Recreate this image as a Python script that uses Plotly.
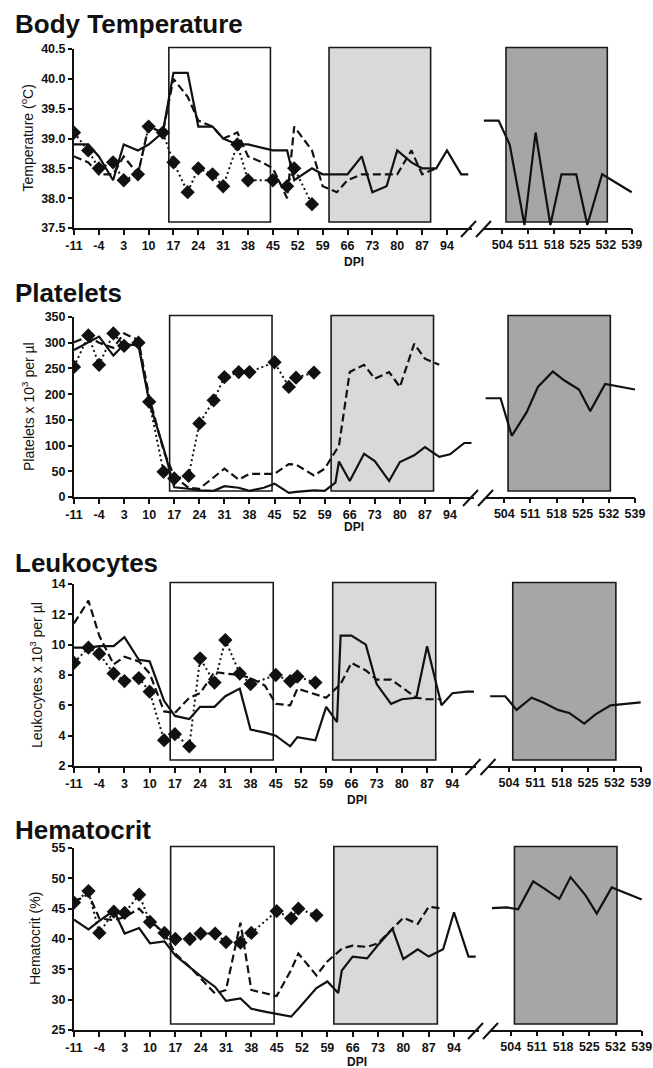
import plotly.graph_objects as go

W, H = 653, 1068

# ---------------- data ----------------
days_solid = [-11, -7, -4, 0, 3, 7, 10, 14, 17, 21, 24, 28, 31, 35, 38, 42, 45, 49, 51, 56,
              59, 62, 63, 66, 70, 73, 77, 80, 84, 87, 91, 94, 98, 100]
days_dashed = [-11, -7, -4, 0, 3, 7, 10, 14, 17, 21, 24, 28, 31, 35, 38, 42, 45, 49, 51, 56,
               59, 63, 66, 70, 73, 77, 80, 84, 87, 91]
days_dotted = [-11, -7, -4, 0, 3, 7, 10, 14, 17, 21, 24, 28, 31, 35, 38, 45, 49, 51, 56]
days_late = [499, 503, 506, 510, 513, 517, 520, 524, 527, 531, 539]

left_ticks = [-11, -4, 3, 10, 17, 24, 31, 38, 45, 52, 59, 66, 73, 80, 87, 94]
right_ticks = [504, 511, 518, 525, 532, 539]

white_phase = [15.7, 44.3]
light_phase = [60.8, 89.4]
dark_phase = [505.0, 532.4]

panel_titles = ["Body Temperature", "Platelets", "Leukocytes", "Hematocrit"]
y_titles = ["Temperature (<sup>o</sup>C)", "Platelets x 10<sup>3</sup> per \u00b5l",
            "Leukocytes x 10<sup>3</sup> per \u00b5l", "Hematocrit (%)"]
x_title = "DPI"

temp_ticks = [37.5, 38.0, 38.5, 39.0, 39.5, 40.0, 40.5]
plt_ticks = [0, 50, 100, 150, 200, 250, 300, 350]
leu_ticks = [2, 4, 6, 8, 10, 12, 14]
hct_ticks = [25, 30, 35, 40, 45, 50, 55]

temp_solid = [38.9, 38.9, 38.7, 38.3, 38.9, 38.8, 38.9, 39.1, 40.1, 40.1,
              39.2, 39.2, 39.0, 38.9, 38.9, 38.85, 38.8, 38.8, 38.3, 38.5,
              38.4, 38.4, 38.4, 38.4, 38.7, 38.1, 38.2, 38.8, 38.6, 38.5,
              38.5, 38.8, 38.4, 38.4]
temp_dashed = [38.7, 38.6, 38.4, 38.4, 38.7, 38.4, 39.2, 39.1, 40.0, 39.7,
               39.3, 39.2, 39.0, 39.1, 38.7, 38.6, 38.5, 38.0, 39.2, 38.8,
               38.2, 38.1, 38.3, 38.4, 38.4, 38.4, 38.4, 38.8, 38.4, 38.5]
temp_dotted = [39.1, 38.8, 38.5, 38.6, 38.3, 38.4, 39.2, 39.1, 38.6, 38.1,
               38.5, 38.4, 38.2, 38.9, 38.3, 38.3, 38.2, 38.5, 37.9]
temp_late = [39.3, 39.3, 38.9, 37.55, 39.1, 37.55, 38.4, 38.4, 37.55, 38.4, 38.1]

plt_solid = [286, 300, 312, 275, 297, 295, 185, 95, 19, 16,
             13, 12, 21, 18, 12, 18, 26, 8, 10, 13,
             12, 28, 69, 31, 84, 70, 31, 68, 81, 97,
             78, 83, 105, 105]
plt_dashed = [301, 312, 300, 290, 318, 305, 195, 90, 40, 18,
              16, 38, 55, 34, 45, 45, 45, 64, 63, 42,
              55, 100, 243, 257, 230, 243, 214, 298, 269, 257]
plt_dotted = [253, 314, 257, 318, 294, 300, 185, 49, 36, 41,
              143, 188, 233, 243, 243, 262, 214, 232, 242]
plt_late = [192, 192, 119, 165, 214, 244, 227, 209, 167, 220, 209]

leu_solid = [9.8, 9.8, 9.9, 9.9, 10.5, 9.0, 8.9, 6.3, 5.3, 5.1,
             5.9, 5.9, 6.6, 7.1, 4.4, 4.2, 4.0, 3.3, 3.9, 3.7,
             5.9, 4.9, 10.6, 10.6, 10.0, 7.4, 6.1, 6.4, 6.5, 9.9,
             6.0, 6.8, 6.9, 6.9]
leu_dashed = [11.4, 12.9, 10.6, 8.7, 9.2, 8.9, 8.1, 5.6, 5.5, 6.5,
              6.8, 8.2, 8.1, 8.0, 7.8, 7.3, 6.1, 6.0, 7.1, 6.7,
              6.5, 7.4, 8.8, 8.3, 7.7, 7.7, 7.2, 6.5, 6.4, 6.4]
leu_dotted = [8.8, 9.8, 9.4, 8.1, 7.6, 7.8, 6.9, 3.7, 4.1, 3.3,
              9.1, 7.5, 10.3, 8.1, 7.4, 8.0, 7.6, 7.9, 7.5]
leu_late = [6.6, 6.6, 5.7, 6.5, 6.2, 5.7, 5.5, 4.8, 5.4, 6.0, 6.2]

hct_solid = [43.2, 41.6, 43.0, 44.7, 40.9, 41.8, 39.3, 39.6, 37.3, 35.3,
             33.9, 32.1, 29.8, 30.2, 28.5, 28.0, 27.7, 27.2, 28.5, 31.9,
             33.0, 31.1, 34.8, 37.1, 36.8, 39.0, 41.7, 36.7, 38.3, 37.1,
             38.3, 44.4, 37.1, 37.1]
hct_dashed = [46.1, 47.4, 43.4, 43.1, 43.6, 45.0, 43.1, 40.9, 37.6, 35.4,
              33.5, 31.0, 31.6, 42.7, 31.6, 31.0, 30.6, 34.9, 37.6, 34.0,
              36.3, 38.4, 38.9, 38.7, 39.3, 41.7, 43.5, 42.5, 45.3, 45.0]
hct_dotted = [46.0, 47.9, 41.0, 44.5, 44.3, 47.3, 42.8, 41.0, 40.0, 40.0,
              40.9, 40.9, 39.5, 39.4, 41.0, 44.6, 43.4, 45.0, 43.9]
hct_late = [45.1, 45.2, 44.9, 49.5, 48.3, 46.6, 50.2, 47.2, 44.2, 48.5, 46.5]

series = [
    (temp_solid, temp_dashed, temp_dotted, temp_late, temp_ticks, [37.5, 40.5], ".1f"),
    (plt_solid, plt_dashed, plt_dotted, plt_late, plt_ticks, [0, 350], "d"),
    (leu_solid, leu_dashed, leu_dotted, leu_late, leu_ticks, [2, 14], "d"),
    (hct_solid, hct_dashed, hct_dotted, hct_late, hct_ticks, [25, 55], "d"),
]

# ---------------- layout geometry (pixels) ----------------
geom = [
    dict(top=49, bottom=228, ppd=3.552, r504=502.3, r539=631.7, brk=468.5, ty=24, ytx=28, dx=354, dy=262),
    dict(top=317, bottom=497, ppd=3.581, r504=504.3, r539=635.0, brk=470.5, ty=293, ytx=28, dx=354, dy=527),
    dict(top=584, bottom=766, ppd=3.603, r504=509.0, r539=640.7, brk=473.0, ty=563, ytx=36, dx=357, dy=800),
    dict(top=848, bottom=1030, ppd=3.619, r504=510.7, r539=641.7, brk=475.5, ty=830, ytx=35, dx=357, dy=1062),
]

FONT = "Liberation Sans, Arial, sans-serif"
BLACK = "#111111"

fig = go.Figure()
layout = dict(width=W, height=H, margin=dict(l=0, r=0, t=0, b=0, pad=0), autosize=False,
              paper_bgcolor="white", plot_bgcolor="rgba(0,0,0,0)", showlegend=False,
              font=dict(family=FONT, color=BLACK))
shapes = []
annotations = []


def px(x):
    return x / W


def py(y):
    return 1 - y / H


for i, (g, s) in enumerate(zip(geom, series)):
    solid, dashed, dotted, late, yticks, yrange, fmt = s
    nl, nr = 2 * i + 1, 2 * i + 2
    xl = "x" if nl == 1 else f"x{nl}"
    yl = "y" if nl == 1 else f"y{nl}"
    xr, yr = f"x{nr}", f"y{nr}"
    xl_key = "xaxis" if nl == 1 else f"xaxis{nl}"
    yl_key = "yaxis" if nl == 1 else f"yaxis{nl}"
    xr_key, yr_key = f"xaxis{nr}", f"yaxis{nr}"

    ydom = [py(g["bottom"]), py(g["top"])]
    lend = g["brk"] + 3
    left_range = [-11, -11 + (lend - 74) / g["ppd"]]
    ppdr = (g["r539"] - g["r504"]) / 35.0
    rstart = g["r504"] - 5.5 * ppdr
    rend = min(g["r539"] + 3, W)
    right_range = [504 - (g["r504"] - rstart) / ppdr, 539 + (rend - g["r539"]) / ppdr]

    tickfont = dict(family=FONT, size=12.5, color=BLACK, weight="bold")
    layout[xl_key] = dict(domain=[px(74), px(lend)], range=left_range, anchor=yl,
                          showline=True, linewidth=2, linecolor=BLACK, ticks="outside",
                          ticklen=5, tickwidth=1.5, tickcolor=BLACK, tickvals=left_ticks,
                          ticktext=[str(v) for v in left_ticks],
                          tickfont=tickfont, showgrid=False, zeroline=False, automargin=False)
    layout[xr_key] = dict(domain=[px(rstart), px(rend)], range=right_range, anchor=yr,
                          showline=False, ticks="outside", ticklen=5, tickwidth=1.5,
                          tickcolor=BLACK, tickvals=right_ticks,
                          ticktext=[str(v) for v in right_ticks], tickfont=tickfont,
                          showgrid=False, zeroline=False, automargin=False)
    ytext = [format(v, fmt) if fmt != "d" else str(int(v)) for v in yticks]
    layout[yl_key] = dict(domain=ydom, range=yrange, anchor=xl, showline=True, linewidth=2,
                          linecolor=BLACK, ticks="outside", ticklen=4, tickwidth=1.5,
                          tickcolor=BLACK, tickvals=yticks, ticktext=ytext, tickfont=tickfont,
                          showgrid=False, zeroline=False, automargin=False)
    layout[yr_key] = dict(domain=ydom, range=yrange, anchor=xr, visible=False,
                          showgrid=False, zeroline=False, automargin=False)

    hpx = g["bottom"] - g["top"]
    ydref = "y domain" if nl == 1 else f"y{nl} domain"
    ydref_r = f"y{nr} domain"
    b0 = 6.0 / hpx
    b1 = 1 + 1.5 / hpx
    box_line = dict(color="#1a1a1a", width=1.6)
    shapes.append(dict(type="rect", xref=xl, yref=ydref, x0=white_phase[0], x1=white_phase[1],
                       y0=b0, y1=b1, fillcolor="white", line=box_line, layer="below"))
    shapes.append(dict(type="rect", xref=xl, yref=ydref, x0=light_phase[0], x1=light_phase[1],
                       y0=b0, y1=b1, fillcolor="#d9d9d9", line=box_line, layer="below"))
    shapes.append(dict(type="rect", xref=xr, yref=ydref_r, x0=dark_phase[0], x1=dark_phase[1],
                       y0=b0, y1=b1, fillcolor="#a6a6a6", line=box_line, layer="below"))

    # right axis baseline
    yb = g["bottom"] + 1
    shapes.append(dict(type="line", xref="paper", yref="paper", x0=px(g["brk"] + 15), x1=px(g["r539"]),
                       y0=py(yb), y1=py(yb), line=dict(color=BLACK, width=2)))
    # break slashes
    for k in range(2):
        cx = g["brk"] + 15 * k
        shapes.append(dict(type="line", xref="paper", yref="paper",
                           x0=px(cx - 7.5), y0=py(yb + 8), x1=px(cx + 7.5), y1=py(yb - 8),
                           line=dict(color=BLACK, width=2)))

    line_w = 2.2
    fig.add_trace(go.Scatter(x=days_solid, y=solid, xaxis=xl, yaxis=yl, mode="lines",
                             line=dict(color=BLACK, width=line_w)))
    fig.add_trace(go.Scatter(x=days_dashed, y=dashed, xaxis=xl, yaxis=yl, mode="lines",
                             line=dict(color=BLACK, width=line_w, dash="8px,4px")))
    fig.add_trace(go.Scatter(x=days_dotted, y=dotted, xaxis=xl, yaxis=yl, mode="lines+markers",
                             line=dict(color=BLACK, width=2, dash="2px,3px"),
                             marker=dict(symbol="diamond", size=11, color=BLACK)))
    fig.add_trace(go.Scatter(x=days_late, y=late, xaxis=xr, yaxis=yr, mode="lines",
                             line=dict(color=BLACK, width=line_w)))

    annotations.append(dict(text="<b>" + panel_titles[i] + "</b>", xref="paper", yref="paper",
                            x=px(13), y=py(g["ty"]), xanchor="left", yanchor="middle",
                            showarrow=False, font=dict(family=FONT, size=26, color=BLACK)))
    annotations.append(dict(text=y_titles[i], xref="paper", yref="paper", textangle=-90,
                            x=px(g["ytx"]), y=py((g["top"] + g["bottom"]) / 2),
                            xanchor="center", yanchor="middle", showarrow=False,
                            font=dict(family=FONT, size=14, color=BLACK)))
    annotations.append(dict(text="<b>" + x_title + "</b>", xref="paper", yref="paper",
                            x=px(g["dx"]), y=py(g["dy"]), xanchor="center", yanchor="middle",
                            showarrow=False, font=dict(family=FONT, size=12, color=BLACK)))

layout["shapes"] = shapes
layout["annotations"] = annotations
fig.update_layout(**layout)
fig.write_html("out.html", config={"displayModeBar": False},
               post_script="document.body.style.margin='0';document.body.style.overflow='hidden';")
